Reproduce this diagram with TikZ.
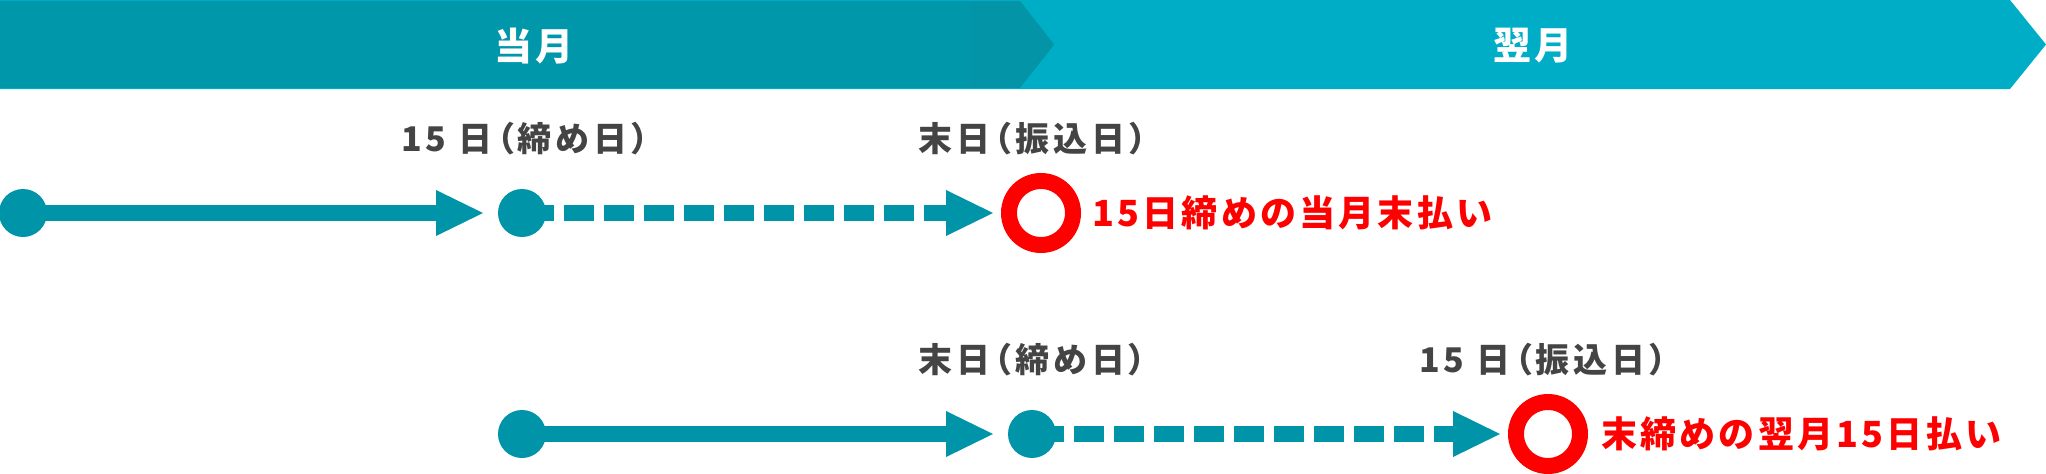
\documentclass[tikz,border=0pt]{standalone}
\usepackage{fontspec}
\usetikzlibrary{arrows.meta,backgrounds}
\newfontfamily\jplbl{Noto Sans CJK JP}[RawFeature=+palt, LetterSpace=12]
\newfontfamily\jpred{Noto Sans CJK JP}[LetterSpace=9]
\newfontfamily\jphdr{Noto Sans CJK JP}[LetterSpace=10]
\definecolor{tealdark}{HTML}{0097AA}
\definecolor{tealdarkb}{HTML}{0394A7}
\definecolor{teallight}{HTML}{00ADC6}
\definecolor{tealedge}{HTML}{5CC8D6}
\definecolor{tealline}{HTML}{0094A8}
\definecolor{labelgray}{HTML}{444444}
\definecolor{ringred}{HTML}{FF0000}
\begin{document}
\begin{tikzpicture}[x=1pt,y=-1pt,
  dot/.style={circle,fill=tealline,minimum size=48pt,inner sep=0pt},
  ring/.style={circle,draw=ringred,line width=16pt,minimum size=64pt,inner sep=0pt},
  conn/.style={draw=tealline,line width=16pt,-{Triangle[width=46pt,length=47pt,line width=0pt]}},
  dashconn/.style={conn,dash pattern=on 30pt off 10pt,dash phase=38pt},
  lbl/.style={anchor=west,inner sep=0pt,text=labelgray,font=\jplbl\bfseries\fontsize{34}{34}\selectfont},
  redlbl/.style={anchor=west,inner sep=0pt,text=ringred,font=\jpred\bfseries\fontsize{36}{36}\selectfont},
  hdr/.style={inner sep=0pt,text=white,font=\jphdr\bfseries\fontsize{38}{38}\selectfont}
]
\useasboundingbox (0,0) rectangle (2046,474);
% header band
\fill[teallight] (0,0) -- (2010,0) -- (2046,44.5) -- (2010,89) -- (0,89) -- cycle;
\fill[tealdark] (0,1.2) -- (1020,1.2) -- (1054,44.5) -- (1020,87.8) -- (0,87.8) -- cycle;
\fill[tealdarkb] (970,1.2) -- (1020,1.2) -- (1054,44.5) -- (1020,87.8) -- (970,87.8) -- cycle;
\node[hdr] (cur) at (534,46) {当月};
\node[hdr] (next) at (1533,46) {翌月};
% labels
\node[lbl] (l1) at (401,139) {15 日（締め日）};
\node[lbl] (l2) at (918,139) {末日（振込日）};
\node[lbl] (l3) at (918,360) {末日（締め日）};
\node[lbl] (l4) at (1419,360) {15 日（振込日）};
% row 1
\node[dot] (d1) at (23,213) {};
\node[dot] (d2) at (522,213) {};
\coordinate (t1) at (483,213);
\coordinate (t2) at (993,213);
\node[ring] (r1) at (1041,213) {};
\node[redlbl] (m1) at (1092,213) {15日締めの当月末払い};
% row 2
\node[dot] (d3) at (522,434) {};
\node[dot] (d4) at (1032,434) {};
\coordinate (t3) at (993,434);
\coordinate (t4) at (1500,434);
\node[ring] (r2) at (1548,434) {};
\node[redlbl] (m2) at (1601,434) {末締めの翌月15日払い};
\begin{scope}[on background layer]
\draw[conn] (d1.center) -- (t1);
\draw[dashconn] (d2.center) -- (t2);
\draw[conn] (d3.center) -- (t3);
\draw[dashconn] (d4.center) -- (t4);
\end{scope}
\end{tikzpicture}
\end{document}
